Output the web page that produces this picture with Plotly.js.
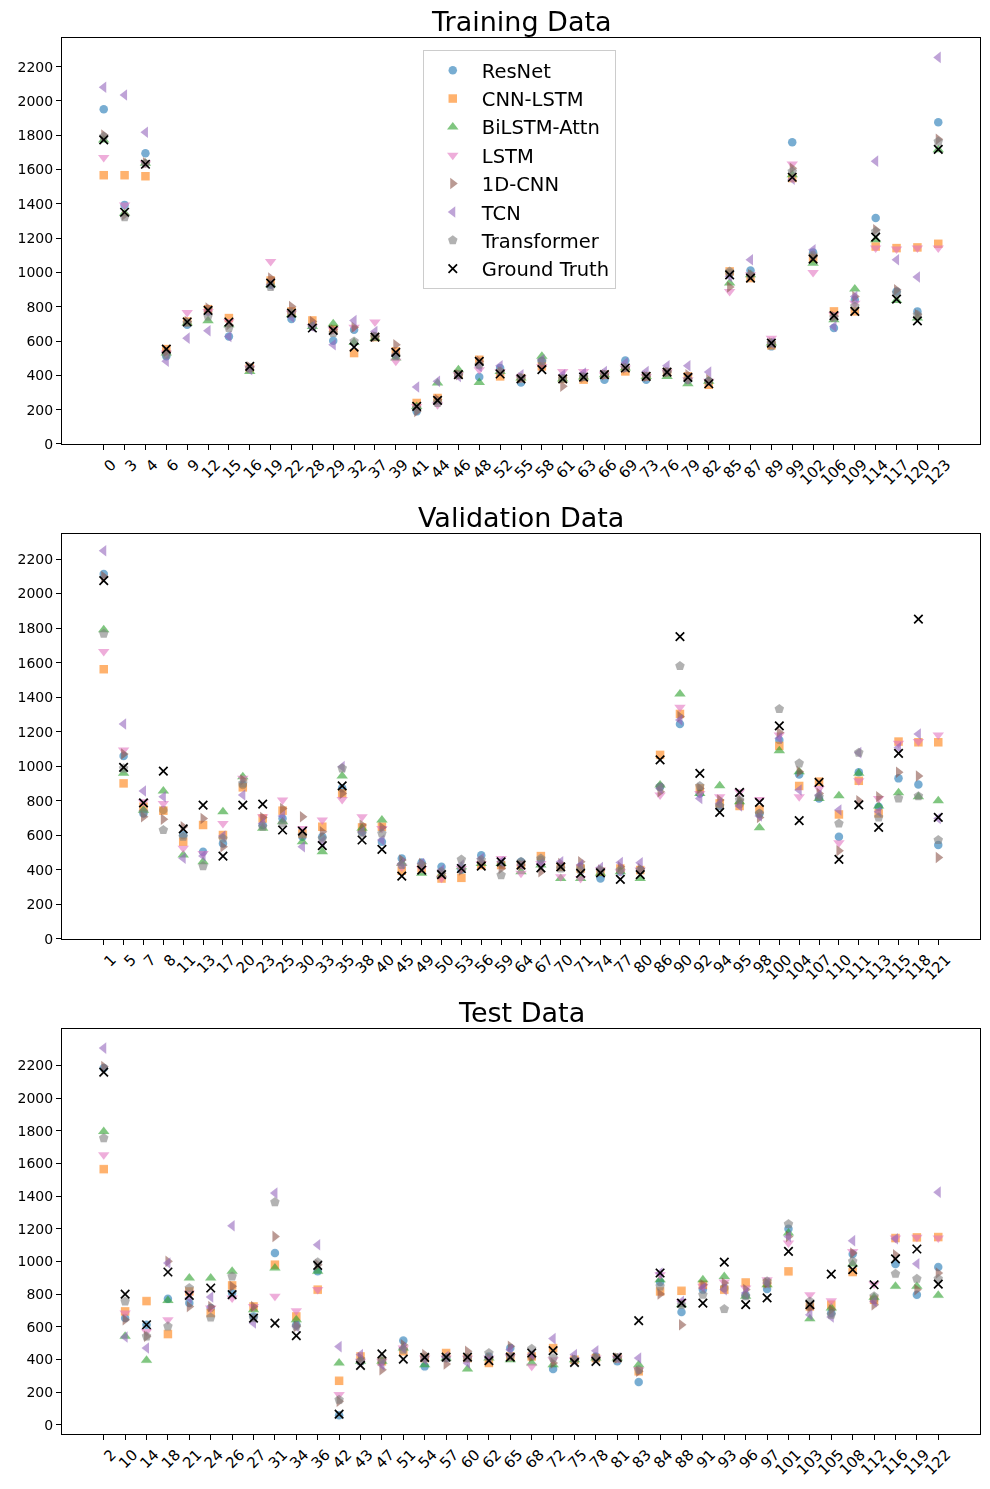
<!DOCTYPE html>
<html>
<head>
<meta charset="utf-8">
<script src="https://cdn.plot.ly/plotly-3.0.1.min.js"></script>
<style>html,body{margin:0;padding:0;background:#fff;}</style>
</head>
<body>
<div id="chart" style="width:990px;height:1489px;"></div>
<script>
// ---------- Training ----------
const trainCats = [0,3,4,6,9,12,15,16,19,22,28,29,32,37,39,41,44,46,48,52,55,58,61,63,66,69,73,76,79,82,85,87,89,99,102,106,109,114,117,120,123];
const trainResNet      = [1951,1394,1695,511,695,773,627,443,928,728,685,602,666,627,520,190,254,404,390,443,359,482,384,390,375,487,375,419,375,365,996,1012,569,1759,1117,676,841,1317,889,773,1876];
const trainCNNLSTM     = [1567,1567,1561,553,714,786,734,443,953,773,720,670,530,623,540,239,268,404,491,394,384,452,379,375,404,423,394,419,394,345,1006,967,575,1550,1083,773,773,1151,1142,1146,1167];
const trainBiLSTM      = [1773,1345,1637,530,705,718,695,423,928,753,685,701,592,617,501,219,355,433,359,423,384,511,379,390,404,443,394,394,351,365,938,986,588,1569,1054,724,903,1190,837,734,1715];
const trainLSTM        = [1670,1394,1637,530,767,773,714,443,1064,763,685,666,680,711,482,219,229,404,433,423,384,452,423,423,404,443,394,419,375,365,889,986,617,1633,1000,753,821,1142,1136,1142,1142];
const train1DCNN       = [1802,1336,1640,540,714,792,695,448,967,802,714,666,681,627,579,190,258,404,482,423,384,452,336,390,404,443,394,419,404,375,915,986,588,1608,1093,744,860,1249,899,753,1777];
const trainTCN         = [2080,2035,1817,482,617,660,627,433,928,740,685,579,720,656,520,332,365,394,452,456,404,491,404,413,423,472,423,456,456,419,977,1074,588,1544,1132,685,860,1649,1074,973,2254];
const trainTransformer = [1792,1322,1635,520,705,744,676,443,915,763,685,647,598,627,511,210,239,404,462,423,384,482,379,390,404,443,394,419,375,365,1006,986,588,1588,1100,738,802,1239,880,753,1763];
const trainGT          = [1773,1351,1631,553,711,779,711,452,938,763,676,662,565,623,534,219,254,404,482,408,379,433,379,390,404,443,394,419,388,351,986,967,588,1555,1078,748,773,1206,845,718,1718];

// ---------- Validation ----------
const valCats = [1,5,7,8,11,13,17,20,23,25,30,33,35,38,40,45,49,50,53,56,59,64,67,70,71,74,77,80,86,90,92,94,95,98,100,104,107,110,111,113,115,118,121];
const valResNet      = [2113,1060,727,747,602,505,553,892,660,698,592,592,873,621,563,466,443,418,399,485,437,447,457,418,418,350,389,399,882,1245,843,770,780,727,1152,953,814,592,965,766,930,895,544];
const valCNNLSTM     = [1562,901,766,743,563,660,602,878,698,743,611,650,843,646,650,395,408,350,354,428,428,428,480,418,408,389,408,399,1066,1303,872,785,770,750,1118,886,911,721,916,727,1143,1139,1139];
const valBiLSTM      = [1791,959,746,857,486,447,737,940,641,679,563,505,944,641,689,437,380,370,418,437,437,389,428,350,350,380,389,350,892,1419,843,887,795,644,1090,969,814,829,959,770,847,824,801];
const valLSTM        = [1665,1094,795,785,525,495,669,930,708,805,640,689,808,708,640,418,408,352,408,437,466,380,437,360,350,399,389,399,834,1342,843,824,853,808,1181,824,872,557,916,814,1133,1143,1181];
const val1DCNN       = [2099,1071,708,693,650,698,534,921,704,756,708,621,843,660,646,457,437,380,399,447,408,428,389,437,447,399,418,408,853,1288,872,805,805,704,1195,969,843,511,801,824,965,944,472];
const valTCN         = [2248,1245,857,824,467,480,596,834,669,712,534,563,998,621,573,437,437,399,428,466,447,428,437,447,428,414,443,441,872,1268,814,785,770,712,1162,863,834,747,1079,737,1109,1187,698];
const valTransformer = [1768,988,737,631,592,422,582,901,650,669,602,582,988,611,611,428,428,389,460,457,370,447,466,408,399,399,399,399,882,1581,886,770,805,727,1332,1017,824,669,1079,704,814,827,573];
const valGT          = [2075,994,788,972,637,775,480,775,781,631,625,540,886,573,519,364,399,373,408,422,447,428,412,418,380,383,345,373,1037,1751,959,733,849,791,1234,685,907,461,776,646,1075,1852,704];

// ---------- Test ----------
const testCats = [2,10,14,18,21,24,26,27,31,34,36,42,43,47,51,54,57,60,62,65,68,72,75,78,81,83,84,88,91,93,96,97,101,103,105,108,112,116,119,122];
const testResNet      = [2184,653,612,771,745,714,806,663,1051,612,939,57,388,388,516,357,408,408,418,469,418,341,398,418,388,261,873,690,827,837,792,831,1200,724,684,1045,765,984,796,965];
const testCNNLSTM     = [1565,694,757,555,816,684,853,724,980,663,827,269,418,388,449,408,439,408,378,418,418,469,398,408,408,327,816,820,857,827,871,867,939,724,735,935,765,1143,1147,1149];
const testBiLSTM      = [1796,541,394,761,898,898,939,704,959,643,939,378,388,388,469,367,408,341,408,398,378,367,398,408,408,367,888,735,888,908,786,857,1173,649,714,984,780,847,847,792];
const testLSTM        = [1653,684,571,643,806,714,776,724,786,698,827,184,388,388,469,408,408,408,408,418,357,398,398,408,408,337,918,755,847,873,837,888,1112,796,759,1061,861,1143,1147,1143];
const test1DCNN       = [2194,643,541,1000,724,724,847,724,1153,602,980,143,408,337,490,429,371,449,408,480,418,378,398,408,408,327,800,612,857,867,827,867,1153,714,704,1051,735,1041,827,929];
const testTCN         = [2306,537,469,990,776,782,1218,622,1418,602,1102,478,429,367,469,398,418,378,408,459,429,527,429,453,408,408,929,755,837,827,806,867,1153,673,659,1127,755,1139,986,1424];
const testTransformer = [1755,755,541,602,837,657,908,653,1363,602,994,153,388,398,459,408,408,408,439,418,465,408,398,408,408,337,847,735,796,708,786,878,1229,755,673,1000,786,924,894,894];
const testGT          = [2159,800,612,935,792,837,796,653,622,545,976,65,363,433,402,412,414,414,392,414,439,453,382,388,412,637,929,745,745,996,735,776,1061,735,922,949,857,1016,1076,861];

// ---------- Styles ----------
const seriesNames = ['ResNet','CNN-LSTM','BiLSTM-Attn','LSTM','1D-CNN','TCN','Transformer','Ground Truth'];
const seriesColors = ['#1f77b4','#ff7f0e','#2ca02c','#e377c2','#8c564b','#9467bd','#7f7f7f','#000000'];
const seriesSymbols = ['circle','square','triangle-up','triangle-down','triangle-right','triangle-left','pentagon','x-thin'];

const panels = [
  {cats: trainCats, data: [trainResNet,trainCNNLSTM,trainBiLSTM,trainLSTM,train1DCNN,trainTCN,trainTransformer,trainGT], xa:'x', ya:'y'},
  {cats: valCats, data: [valResNet,valCNNLSTM,valBiLSTM,valLSTM,val1DCNN,valTCN,valTransformer,valGT], xa:'x2', ya:'y2'},
  {cats: testCats, data: [testResNet,testCNNLSTM,testBiLSTM,testLSTM,test1DCNN,testTCN,testTransformer,testGT], xa:'x3', ya:'y3'}
];

const traces = [];
panels.forEach((p, pi) => {
  const xs = p.cats.map(String);
  p.data.forEach((vals, si) => {
    const isGT = si === 7;
    traces.push({
      type: 'scatter', mode: 'markers',
      x: xs, y: vals, xaxis: p.xa, yaxis: p.ya,
      name: seriesNames[si], legendgroup: seriesNames[si],
      showlegend: pi === 0,
      opacity: isGT ? 1 : 0.6,
      marker: isGT
        ? {symbol: 'x-thin', size: 8.5, color: '#000', line: {width: 1.7, color: '#000'}}
        : {symbol: seriesSymbols[si], size: si === 0 ? 8.5 : (si === 1 ? 8.5 : 10), color: seriesColors[si], line: {width: 0}}
    });
  });
});

const font = {family: 'DejaVu Sans, sans-serif', color: '#000'};
function xAxis(cats, anchor) {
  const n = cats.length - 1;
  return {
    type: 'category', categoryorder: 'array', categoryarray: cats.map(String),
    range: [-0.05 * n, n * 1.05], anchor: anchor,
    showgrid: false, zeroline: false, showline: true, mirror: true,
    linecolor: '#000', linewidth: 1, ticks: 'outside', ticklen: 5, tickcolor: '#000',
    tickangle: -45, tickfont: {family: font.family, size: 15, color: '#000'},
    ticklabelshift: 8
  };
}
function yAxis(domain, range, anchor) {
  return {
    domain: domain, range: range, anchor: anchor,
    tickvals: [0,200,400,600,800,1000,1200,1400,1600,1800,2000,2200],
    showgrid: false, zeroline: false, showline: true, mirror: true,
    linecolor: '#000', linewidth: 1, ticks: 'outside', ticklen: 5, tickcolor: '#000',
    tickfont: {family: font.family, size: 14, color: '#000'}
  };
}

const titleFont = {family: font.family, size: 27, color: '#000'};
const layout = {
  width: 990, height: 1489,
  margin: {l: 62, r: 10, t: 38, b: 55},
  paper_bgcolor: '#fff', plot_bgcolor: '#fff',
  font: font,
  xaxis: xAxis(trainCats, 'y'),
  yaxis: yAxis([0.7092, 1], [0, 2367], 'x'),
  xaxis2: xAxis(valCats, 'y2'),
  yaxis2: yAxis([0.3546, 0.6447], [0, 2345], 'x2'),
  xaxis3: xAxis(testCats, 'y3'),
  yaxis3: yAxis([0, 0.2901], [-57, 2423], 'x3'),
  showlegend: true,
  legend: {
    x: 0.393, y: 0.9914, xanchor: 'left', yanchor: 'top',
    bgcolor: 'rgba(255,255,255,0.8)', bordercolor: '#cccccc', borderwidth: 1,
    font: {family: font.family, size: 19.5, color: '#000'},
    tracegroupgap: 0, itemwidth: 48
  },
  annotations: [
    {text: 'Training Data', xref: 'paper', yref: 'paper', x: 0.5, y: 1.0, yanchor: 'bottom', yshift: -1, showarrow: false, font: titleFont},
    {text: 'Validation Data', xref: 'paper', yref: 'paper', x: 0.5, y: 0.6447, yanchor: 'bottom', yshift: -1, showarrow: false, font: titleFont},
    {text: 'Test Data', xref: 'paper', yref: 'paper', x: 0.5, y: 0.2901, yanchor: 'bottom', yshift: -1, showarrow: false, font: titleFont}
  ]
};

Plotly.newPlot('chart', traces, layout, {displayModeBar: false, staticPlot: true});
</script>
</body>
</html>
